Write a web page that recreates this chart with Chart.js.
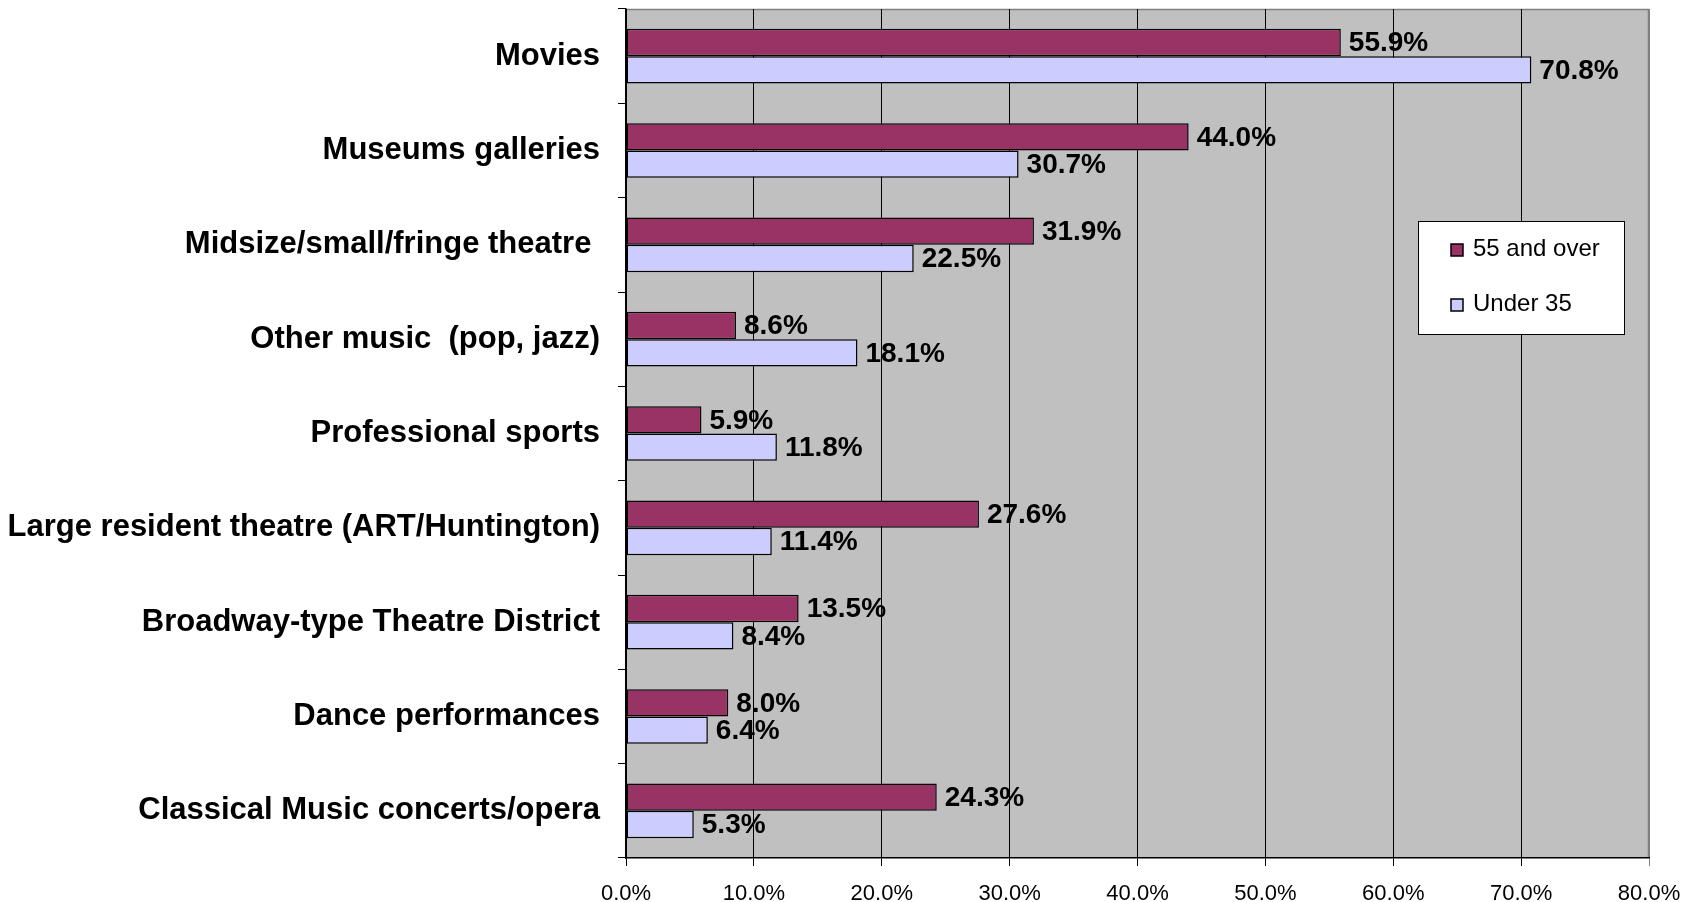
<!DOCTYPE html>
<html>
<head>
<meta charset="utf-8">
<script src="https://cdn.jsdelivr.net/npm/chart.js@4.4.1/dist/chart.umd.min.js"></script>
<style>
html,body{margin:0;padding:0;background:#ffffff;}
#wrap{width:1696px;height:902px;}
</style>
</head>
<body>
<div id="wrap"><canvas id="c" width="1696" height="902"></canvas></div>
<script>
const categories = [
  "Movies",
  "Museums galleries",
  "Midsize/small/fringe theatre ",
  "Other music  (pop, jazz)",
  "Professional sports",
  "Large resident theatre (ART/Huntington)",
  "Broadway-type Theatre District",
  "Dance performances",
  "Classical Music concerts/opera"
];
const over55 = [55.9, 44.0, 31.9, 8.6, 5.9, 27.6, 13.5, 8.0, 24.3];
const under35 = [70.8, 30.7, 22.5, 18.1, 11.8, 11.4, 8.4, 6.4, 5.3];
const seriesNames = ["55 and over", "Under 35"];
const xTickValues = [0, 10, 20, 30, 40, 50, 60, 70, 80];

const FONT = "'Liberation Sans', Arial, Helvetica, sans-serif";

const plotBg = {
  id: 'plotBg',
  beforeDraw(chart) {
    const {ctx, chartArea: a} = chart;
    ctx.save();
    ctx.fillStyle = '#C0C0C0';
    ctx.fillRect(a.left, a.top, a.right - a.left, a.bottom - a.top);
    ctx.strokeStyle = '#808080';
    ctx.lineWidth = 1.5;
    ctx.beginPath();
    ctx.moveTo(a.left, a.top + 0.5);
    ctx.lineTo(a.right - 0.5, a.top + 0.5);
    ctx.lineTo(a.right - 0.5, a.bottom);
    ctx.stroke();
    ctx.restore();
  }
};

const valueLabels = {
  id: 'valueLabels',
  afterDatasetsDraw(chart) {
    const ctx = chart.ctx;
    ctx.save();
    ctx.font = "bold 28px " + FONT;
    ctx.fillStyle = '#000';
    ctx.textAlign = 'left';
    ctx.textBaseline = 'middle';
    chart.data.datasets.forEach((ds, di) => {
      const meta = chart.getDatasetMeta(di);
      meta.data.forEach((bar, i) => {
        ctx.fillText(ds.data[i].toFixed(1) + '%', bar.x + 8, bar.y + 1);
      });
    });
    ctx.restore();
  }
};

const boxLegend = {
  id: 'boxLegend',
  afterDraw(chart) {
    const {ctx, chartArea: a} = chart;
    const left = a.right - 231, top = a.top + 212, w = 206, h = 113;
    ctx.save();
    ctx.fillStyle = '#fff';
    ctx.fillRect(left, top, w, h);
    ctx.strokeStyle = '#000';
    ctx.lineWidth = 1;
    ctx.strokeRect(left + 0.5, top + 0.5, w, h);
    ctx.font = "24px " + FONT;
    ctx.textBaseline = 'middle';
    ctx.textAlign = 'left';
    chart.data.datasets.forEach((ds, i) => {
      const cy = top + 29 + i * 55;
      ctx.fillStyle = ds.backgroundColor;
      ctx.fillRect(left + 33, cy - 6, 12, 12);
      ctx.strokeStyle = '#000';
      ctx.lineWidth = 1.5;
      ctx.strokeRect(left + 33, cy - 6, 12, 12);
      ctx.fillStyle = '#000';
      ctx.fillText(ds.label, left + 55, cy - 1);
    });
    ctx.restore();
  }
};

new Chart(document.getElementById('c'), {
  type: 'bar',
  data: {
    labels: categories,
    datasets: [
      {
        label: seriesNames[0],
        data: over55,
        backgroundColor: '#993366',
        borderColor: '#000000',
        borderWidth: 1.5,
        borderSkipped: false
      },
      {
        label: seriesNames[1],
        data: under35,
        backgroundColor: '#CCCCFF',
        borderColor: '#000000',
        borderWidth: 1.5,
        borderSkipped: false
      }
    ]
  },
  options: {
    indexAxis: 'y',
    responsive: false,
    animation: false,
    devicePixelRatio: 1,
    categoryPercentage: 0.58,
    barPercentage: 1.0,
    layout: { padding: { top: 9, right: 47, left: 0, bottom: 0 } },
    plugins: {
      legend: { display: false },
      tooltip: { enabled: false }
    },
    scales: {
      x: {
        type: 'linear',
        position: 'bottom',
        min: 0,
        max: 80,
        afterBuildTicks(scale) {
          scale.ticks = xTickValues.map(v => ({ value: v }));
        },
        afterFit(scale) {
          scale.height = 44;
          scale.paddingLeft = 0;
          scale.paddingRight = 0;
        },
        ticks: {
          color: '#000',
          font: { family: FONT, size: 22 },
          padding: 15,
          maxRotation: 0,
          autoSkip: false,
          callback: v => Number(v).toFixed(1) + '%'
        },
        grid: {
          color: ctx => (ctx.tick && ctx.tick.value === 80) ? '#808080' : '#000000',
          lineWidth: 1,
          tickLength: 8,
          drawOnChartArea: true
        },
        border: { display: true, color: '#000000', width: 1.5 }
      },
      y: {
        type: 'category',
        position: 'left',
        afterFit(scale) {
          scale.width = 626;
          scale.paddingTop = 0;
          scale.paddingBottom = 0;
        },
        ticks: {
          color: '#000',
          font: { family: FONT, size: 31, weight: 'bold' },
          padding: 18,
          autoSkip: false
        },
        grid: {
          offset: true,
          drawOnChartArea: false,
          color: '#000000',
          lineWidth: 1,
          tickLength: 8
        },
        border: { display: true, color: '#000000', width: 1.5 }
      }
    }
  },
  plugins: [plotBg, valueLabels, boxLegend]
});
</script>
</body>
</html>
